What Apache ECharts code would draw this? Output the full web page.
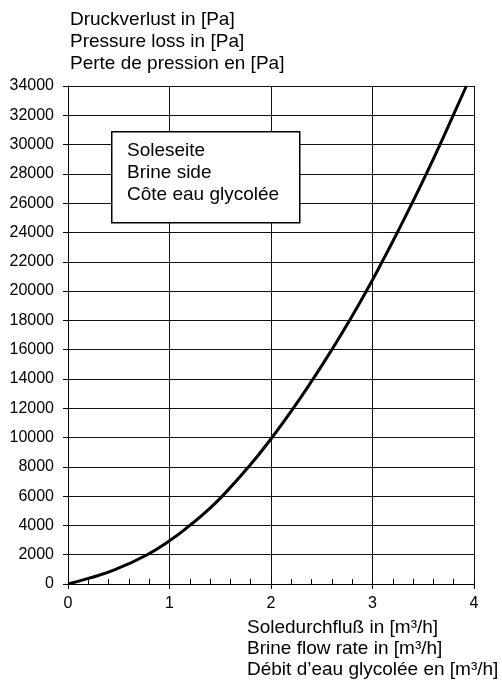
<!DOCTYPE html>
<html>
<head>
<meta charset="utf-8">
<script src="https://cdn.jsdelivr.net/npm/echarts@6/dist/echarts.min.js"></script>
<style>
html,body{margin:0;padding:0;background:#fff;}
#chart{width:502px;height:684px;}
</style>
</head>
<body>
<div id="chart"></div>
<script>
// Data
const flowRate = [0, 0.2, 0.47, 0.78, 1.01, 1.2, 1.37, 1.52, 1.78, 2.01, 2.22, 2.415, 2.6, 2.775, 2.94, 3.095, 3.245, 3.39, 3.53, 3.665, 3.795, 3.925];
const pressureLoss = [0, 380, 1000, 2000, 3000, 4000, 5000, 6000, 8000, 10000, 12000, 14000, 16000, 18000, 20000, 22000, 24000, 26000, 28000, 30000, 32000, 34000];
const yTitleLines = ['Druckverlust in [Pa]', 'Pressure loss in [Pa]', 'Perte de pression en [Pa]'];
const xTitleLines = ['Soledurchfluß in [m³/h]', 'Brine flow rate in [m³/h]', 'Débit d’eau glycolée en [m³/h]'];
const legendLines = ['Soleseite', 'Brine side', 'Côte eau glycolée'];

const FONT = '"Liberation Sans", Arial, sans-serif';
const chart = echarts.init(document.getElementById('chart'), null, {renderer: 'canvas'});
const points = flowRate.map((x, i) => [x, pressureLoss[i]]);

chart.setOption({
  backgroundColor: '#fff',
  animation: false,
  title: [
    {text: yTitleLines.join('\n'), left: 70, top: 9, padding: 0,
     textStyle: {fontFamily: FONT, fontSize: 19, fontWeight: 'normal', color: '#000', lineHeight: 22}},
    {text: xTitleLines.join('\n'), left: 247, top: 617, padding: 0,
     textStyle: {fontFamily: FONT, fontSize: 19, fontWeight: 'normal', color: '#000', lineHeight: 21}}
  ],
  grid: {left: 68, right: 28, top: 86, bottom: 100, containLabel: false},
  xAxis: [
    {type: 'value', min: 0, max: 4, interval: 1, position: 'bottom',
     axisLine: {show: true, onZero: false, lineStyle: {color: '#000', width: 1}},
     axisTick: {show: true, inside: false, length: 5, lineStyle: {color: '#000'}},
     axisLabel: {margin: 12, fontFamily: FONT, fontSize: 16, color: '#000'},
     splitLine: {show: true, lineStyle: {color: '#111', width: 1}}},
    {type: 'value', min: 0, max: 4, interval: 0.2, position: 'bottom', offset: 0,
     axisLine: {show: false},
     axisTick: {show: true, inside: true, length: 5, lineStyle: {color: '#000'}},
     axisLabel: {show: false},
     splitLine: {show: false}}
  ],
  yAxis: {
    type: 'value', min: 0, max: 34000, interval: 2000,
    axisLine: {show: true, lineStyle: {color: '#000', width: 1}},
    axisTick: {show: true, inside: false, length: 5, lineStyle: {color: '#000'}},
    axisLabel: {margin: 14, fontFamily: FONT, fontSize: 16, color: '#000',
                formatter: v => String(v)},
    splitLine: {show: true, lineStyle: {color: '#111', width: 1}}
  },
  graphic: [
    {type: 'rect', left: 111, top: 131, z: 100, shape: {x: 0, y: 0, width: 188, height: 91},
     style: {fill: '#ffffff', stroke: '#000', lineWidth: 1.5}},
    {type: 'text', left: 127, top: 140, z: 101,
     style: {text: legendLines.join('\n'), fill: '#000', font: '19px ' + FONT, lineHeight: 22}}
  ],
  series: [{
    type: 'line', xAxisIndex: 0, data: points, smooth: 0.5, showSymbol: false,
    lineStyle: {color: '#000', width: 3}, z: 5
  }]
});
</script>
</body>
</html>
